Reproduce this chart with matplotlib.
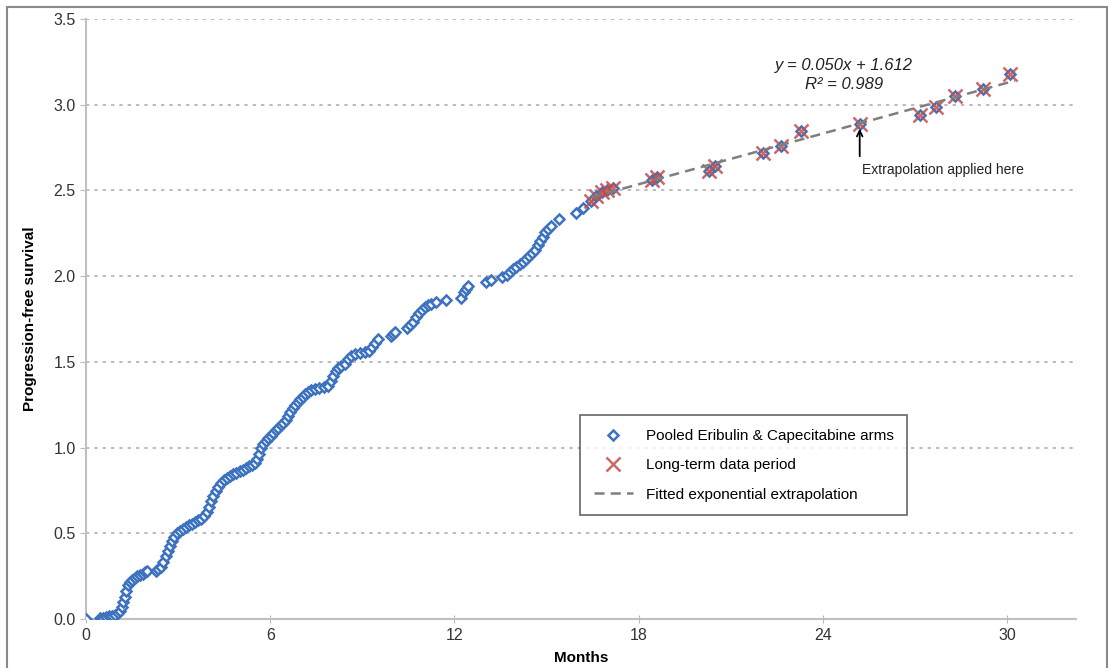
import numpy as np
import matplotlib
matplotlib.use("Agg")
import matplotlib.pyplot as plt
from matplotlib.patches import Rectangle

plt.rcParams['font.family'] = ['Liberation Sans', 'DejaVu Sans']

# pooled arms (months, cumulative value)
pooled_months = [
    0.00, 0.45, 0.55, 0.65, 0.75, 0.85, 0.95, 1.05, 1.12, 1.18, 1.22, 1.26, 1.30,
    1.36, 1.42, 1.50, 1.58, 1.66, 1.75, 1.84, 1.92, 2.00,
    2.28, 2.36, 2.44, 2.52, 2.60, 2.66, 2.72, 2.80, 2.88, 2.96, 3.05, 3.15, 3.25,
    3.35, 3.45, 3.55, 3.65, 3.75, 3.85, 3.93, 4.00, 4.07, 4.14, 4.22, 4.30, 4.40,
    4.50, 4.60, 4.70, 4.80, 4.90, 5.00, 5.10, 5.20, 5.30, 5.40, 5.50, 5.57, 5.64,
    5.71, 5.78, 5.86, 5.94, 6.02, 6.10, 6.18, 6.26, 6.34, 6.42, 6.50, 6.58, 6.66,
    6.74, 6.82, 6.90, 6.98, 7.06, 7.14, 7.22, 7.32, 7.45, 7.60, 7.75, 7.88, 7.98,
    8.06, 8.14, 8.22, 8.32, 8.42, 8.52, 8.62, 8.75, 8.92, 9.10, 9.22, 9.32, 9.42,
    9.52, 9.92, 10.00, 10.08, 10.45, 10.55, 10.65, 10.75, 10.85, 10.95, 11.05,
    11.15, 11.25, 11.40, 11.72, 12.20, 12.32, 12.38, 12.45, 13.02, 13.18, 13.55,
    13.70, 13.82, 13.92, 14.02, 14.12, 14.22, 14.32, 14.42, 14.52, 14.62, 14.72,
    14.80, 14.88, 14.96, 15.06, 15.16, 15.40, 15.95, 16.20,
    16.45, 16.62, 16.80, 16.98, 17.15, 18.45, 18.60, 20.30, 20.50, 22.05, 22.65,
    23.30, 25.20, 27.15, 27.70, 28.30, 29.20, 30.10]
pooled_pfs = [
    0.000, 0.005, 0.008, 0.012, 0.016, 0.020, 0.025, 0.032, 0.045, 0.070, 0.100, 0.130, 0.165,
    0.200, 0.215, 0.228, 0.238, 0.248, 0.256, 0.265, 0.272, 0.280,
    0.280, 0.290, 0.305, 0.330, 0.365, 0.395, 0.425, 0.455, 0.480, 0.500, 0.515, 0.527, 0.538,
    0.548, 0.557, 0.566, 0.575, 0.585, 0.600, 0.625, 0.655, 0.690, 0.720, 0.748, 0.772, 0.795,
    0.810, 0.822, 0.833, 0.843, 0.853, 0.862, 0.870, 0.880, 0.890, 0.898, 0.910, 0.935, 0.965,
    0.995, 1.020, 1.040, 1.055, 1.070, 1.085, 1.100, 1.115, 1.130, 1.145, 1.160, 1.185, 1.210,
    1.232, 1.250, 1.268, 1.283, 1.298, 1.312, 1.325, 1.335, 1.342, 1.348, 1.353, 1.360, 1.390,
    1.420, 1.445, 1.462, 1.475, 1.490, 1.515, 1.535, 1.545, 1.550, 1.555, 1.565, 1.585, 1.610,
    1.635, 1.650, 1.660, 1.672, 1.700, 1.715, 1.735, 1.760, 1.785, 1.805, 1.818,
    1.830, 1.840, 1.850, 1.860, 1.870, 1.905, 1.925, 1.945, 1.965, 1.975, 1.995,
    2.005, 2.025, 2.040, 2.055, 2.070, 2.085, 2.100, 2.115, 2.135, 2.155, 2.180,
    2.205, 2.230, 2.255, 2.275, 2.290, 2.335, 2.370, 2.400,
    2.440, 2.465, 2.490, 2.505, 2.515, 2.560, 2.580, 2.615, 2.640, 2.720, 2.760,
    2.850, 2.890, 2.940, 2.990, 3.050, 3.090, 3.180]

# long-term data period
lt_months = [16.45, 16.62, 16.80, 16.98, 17.15, 18.45, 18.60, 20.30, 20.50, 22.05,
             22.65, 23.30, 25.20, 27.15, 27.70, 28.30, 29.20, 30.10]
lt_pfs = [2.440, 2.465, 2.490, 2.505, 2.515, 2.560, 2.580, 2.615, 2.640, 2.720,
          2.760, 2.850, 2.890, 2.940, 2.990, 3.050, 3.090, 3.180]

x_ticks = [0, 6, 12, 18, 24, 30]
y_ticks = [0.0, 0.5, 1.0, 1.5, 2.0, 2.5, 3.0, 3.5]

blue = '#3D72BF'
red = '#C0504D'

fig = plt.figure(figsize=(11.1, 6.68), dpi=100)
ax = fig.add_axes([0.0775, 0.0734, 0.892, 0.898])

# outer frame
fig.patches.append(Rectangle((0.006, -0.01), 0.991, 1.0, transform=fig.transFigure,
                             fill=False, edgecolor='#8a8a8a', lw=1.5))

ax.plot(pooled_months, pooled_pfs, ls='none', marker='D', markersize=5,
        mfc='white', mec=blue, mew=1.8, label='Pooled Eribulin & Capecitabine arms', zorder=3)
ax.plot(lt_months, lt_pfs, ls='none', marker='x', markersize=10, color=red,
        mew=1.8, alpha=0.85, label='Long-term data period', zorder=4)

# fitted line through the long-term points
k, b = np.polyfit(lt_months, lt_pfs, 1)
xf = np.array([min(lt_months), max(lt_months) + 0.15])
ax.plot(xf, k * xf + b, ls=(0, (4, 2.5)), color='#7f7f7f', lw=1.8,
        label='Fitted exponential extrapolation', zorder=5)

ax.set_xlim(0, 32.25)
ax.set_ylim(0, 3.5)
ax.set_xticks(x_ticks)
ax.set_yticks(y_ticks)
ax.set_yticklabels([f'{v:.1f}' for v in y_ticks])
ax.tick_params(labelsize=11.5, colors='#333333', length=4, color='#bbbbbb')
ax.tick_params(axis='x', direction='inout', length=6)
for s in ['top', 'right']:
    ax.spines[s].set_visible(False)
for s in ['left', 'bottom']:
    ax.spines[s].set_color('#c0c0c0')
    ax.spines[s].set_linewidth(1.5)
ax.yaxis.grid(True, ls=(0, (2, 3)), color='#b0b0b0', lw=1.2)
ax.set_axisbelow(True)

ax.set_xlabel('Months', fontsize=11, fontweight='bold', labelpad=6)
ax.set_ylabel('Progression-free survival', fontsize=11, fontweight='bold', labelpad=12)

ax.text(24.7, 3.23, 'y = 0.050x + 1.612', fontsize=12, style='italic', ha='center', va='center',
        color='#222222')
ax.text(24.7, 3.12, 'R² = 0.989', fontsize=12, style='italic', ha='center', va='center',
        color='#222222')
ax.annotate('', xy=(25.2, 2.86), xytext=(25.2, 2.70),
            arrowprops=dict(arrowstyle='->', color='black', lw=1.3, shrinkA=0, shrinkB=0))
ax.text(27.9, 2.62, 'Extrapolation applied here', fontsize=10, ha='center', va='center',
        color='#222222')

leg = ax.legend(loc='lower left', bbox_to_anchor=(0.491, 0.16), fontsize=11,
                frameon=True, fancybox=False, edgecolor='#404040', handlelength=2.6,
                borderpad=0.9, labelspacing=1.0, handletextpad=0.8)
leg.get_frame().set_linewidth(1.2)

fig.savefig('out.png', dpi=100)
